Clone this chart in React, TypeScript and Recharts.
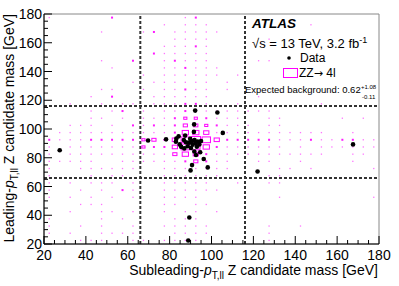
import { ScatterChart, Scatter, XAxis, YAxis, ReferenceLine, ReferenceArea } from 'recharts';

// bin centres of the 5 GeV ZZ->4l prediction histogram
const xCentres = [
  22.5, 27.5, 32.5, 37.5, 42.5, 47.5, 52.5, 57.5, 62.5, 67.5, 72.5, 77.5, 82.5, 87.5, 92.5, 97.5,
  102.5, 107.5, 112.5, 117.5, 122.5, 127.5, 132.5, 137.5, 142.5, 147.5, 152.5, 157.5, 162.5, 167.5, 172.5, 177.5,
];
const yCentres = [
  177.5, 172.5, 167.5, 162.5, 157.5, 152.5, 147.5, 142.5, 137.5, 132.5, 127.5, 122.5, 117.5, 112.5, 107.5, 102.5,
  97.5, 92.5, 87.5, 82.5, 77.5, 72.5, 67.5, 62.5, 57.5, 52.5, 47.5, 42.5, 37.5, 32.5, 27.5, 22.5,
];

// box size per bin (0 = empty, 9 = largest), one string per row, top row first
const zzRows = [
  '10000020000001200000000000000000',
  '00000000000101110000000001000000',
  '00000100012011111000000000000000',
  '00000000000011110000010000000000',
  '00000000000111210000000000000000',
  '00000000002111110000000000000000',
  '00000100200121110000110000000000',
  '00000010000112111000000000000000',
  '00000000010111111010000000000000',
  '00000000101111110100000000000000',
  '00000110010112110100000000000000',
  '00001020001111110000100000000000',
  '00100101101112210010000000100000',
  '00001012010112211111110000000000',
  '00001101011123321110011000001010',
  '00111010212124432111011000000000',
  '01111111111126651111111111100100',
  '21112222234258985222221112112211',
  '10111111132258862111111010111111',
  '10111111111146521111111111100110',
  '11111001111112421100110010000100',
  '10011111100111111100001101000001',
  '10001011000111111000011000000000',
  '10101110100111110010011000000000',
  '10010102100111111000000000000000',
  '10101010100111100000001000000001',
  '00011100000110110000000000000000',
  '00100110100101101000000000000000',
  '10000101000011100000000000000000',
  '10010100100111110000010010000000',
  '10100111100011110000010000000000',
  '00011100110111100000010000000000',
];

// observed events [subleading mass, leading mass]
const dataPoints = [
  [27.5, 85.2], [69.7, 92.0], [78.3, 92.8], [84.3, 94.9], [87.4, 95.4],
  [92.2, 112.8], [102.8, 111.5], [91.7, 103.2], [91.6, 98.0], [105.4, 97.3],
  [83.0, 91.2], [83.2, 93.3], [84.8, 89.3], [85.5, 87.6], [86.8, 92.3],
  [87.8, 90.8], [88.6, 88.0], [89.3, 90.5], [89.8, 93.2], [90.7, 91.6],
  [91.0, 89.0], [91.9, 92.4], [92.4, 90.2], [93.4, 91.3], [94.2, 89.3],
  [95.0, 91.7], [93.0, 87.7], [90.2, 86.8], [87.0, 86.5],
  [91.8, 84.3], [92.6, 81.9], [94.6, 83.8], [96.3, 79.1], [98.2, 73.3],
  [90.7, 74.9], [90.0, 71.2], [89.4, 38.4], [88.9, 22.4], [122.0, 70.4], [167.6, 89.3],
];

const axisTicks = [
  20, 25, 30, 35, 40, 45, 50, 55, 60, 65, 70, 75, 80, 85, 90, 95, 100,
  105, 110, 115, 120, 125, 130, 135, 140, 145, 150, 155, 160, 165, 170, 175, 180,
];
const cutLow = 66;
const cutHigh = 116;

const FONT = '"Liberation Sans", Arial, Helvetica, sans-serif';
const BIN_W = (335 / 160) * 5;
const BIN_H = (230 / 160) * 5;

const zzBins: { x: number; y: number; w: number }[] = [];
zzRows.forEach((row, i) => {
  row.split('').forEach((c, j) => {
    const w = Number(c);
    if (w > 0) zzBins.push({ x: xCentres[j], y: yCentres[i], w });
  });
});
const events = dataPoints.map(([x, y]) => ({ x, y }));

const ZZBox = (props: any) => {
  const { cx, cy, payload } = props;
  const w = payload.w;
  if (w <= 2) {
    const s = w === 1 ? 1.3 : 2;
    return <rect x={cx - s / 2} y={cy - s / 2} width={s} height={s} fill="#ff00ff" fillOpacity={w === 1 ? 0.55 : 0.9} />;
  }
  const bw = (BIN_W * w) / 10;
  const bh = (BIN_H * w) / 10;
  return <rect x={cx - bw / 2} y={cy - bh / 2} width={bw} height={bh} fill="none" stroke="#ff00ff" strokeWidth={1} />;
};

const Dot = (props: any) => <circle cx={props.cx} cy={props.cy} r={2.3} fill="#000" />;

const XTick = (props: any) => {
  const { x, y, payload } = props;
  const major = payload.value % 20 === 0;
  return (
    <g>
      <line x1={x} x2={x} y1={y} y2={y - (major ? 8 : 4)} stroke="#000" />
      {major && (
        <text x={x} y={y + 15.5} textAnchor="middle" fontSize={14} fontFamily={FONT} fill="#000">
          {payload.value}
        </text>
      )}
    </g>
  );
};

const YTick = (props: any) => {
  const { x, y, payload } = props;
  const major = payload.value % 20 === 0;
  return (
    <g>
      <line x1={x} x2={x + (major ? 8 : 4)} y1={y} y2={y} stroke="#000" />
      {major && (
        <text x={x - 2} y={y + 5} textAnchor="end" fontSize={14} fontFamily={FONT} fill="#000">
          {payload.value}
        </text>
      )}
    </g>
  );
};

export default function App() {
  return (
    <div style={{ position: 'relative', width: 399, height: 286, background: '#fff' }}>
      <style>{'body{margin:0}'}</style>
      <ScatterChart width={399} height={286} margin={{ top: 14, right: 20, bottom: 0, left: 0 }}>
        <XAxis
          type="number"
          dataKey="x"
          domain={[20, 180]}
          ticks={axisTicks}
          interval={0}
          height={42}
          tickSize={0}
          tickMargin={0}
          tickLine={false}
          tick={<XTick />}
          axisLine={{ stroke: '#000' }}
          allowDataOverflow
        />
        <YAxis
          type="number"
          dataKey="y"
          domain={[20, 180]}
          ticks={axisTicks}
          interval={0}
          width={44}
          tickSize={0}
          tickMargin={0}
          tickLine={false}
          tick={<YTick />}
          axisLine={{ stroke: '#000' }}
          allowDataOverflow
        />
        <ReferenceArea x1={20} x2={180} y1={20} y2={180} fill="none" stroke="#888" strokeWidth={1} />
        <Scatter data={zzBins} shape={<ZZBox />} isAnimationActive={false} />
        <ReferenceLine x={cutLow} stroke="#333" strokeWidth={2} strokeDasharray="3 2" />
        <ReferenceLine x={cutHigh} stroke="#333" strokeWidth={2} strokeDasharray="3 2" />
        <ReferenceLine y={cutLow} stroke="#333" strokeWidth={2} strokeDasharray="3 2" />
        <ReferenceLine y={cutHigh} stroke="#333" strokeWidth={2} strokeDasharray="3 2" />
        <Scatter data={events} shape={<Dot />} isAnimationActive={false} />
      </ScatterChart>
      <svg width={399} height={286} style={{ position: 'absolute', left: 0, top: 0, pointerEvents: 'none' }} fontFamily={FONT}>
        <text transform="translate(14,14) rotate(-90)" textAnchor="end" fontSize={14} fill="#000">
          Leading-<tspan fontStyle="italic">p</tspan>
          <tspan fontSize={10} dy={4}>T,ll</tspan>
          <tspan dy={-4}> Z candidate mass [GeV]</tspan>
        </text>
        <text x={378} y={275} textAnchor="end" fontSize={14} fill="#000">
          Subleading-<tspan fontStyle="italic">p</tspan>
          <tspan fontSize={10} dy={4}>T,ll</tspan>
          <tspan dy={-4}> Z candidate mass [GeV]</tspan>
        </text>
        <text x={252} y={28} fontSize={13.5} fontWeight="bold" fontStyle="italic" fill="#000">ATLAS</text>
        <text x={252} y={48} fontSize={13} fill="#000">
          √s = 13 TeV, 3.2 fb<tspan fontSize={9} dy={-5}>-1</tspan>
        </text>
        <circle cx={289} cy={58} r={1.8} fill="#000" />
        <text x={300} y={62} fontSize={12} fill="#000">Data</text>
        <rect x={283.5} y={68.5} width={14} height={9} fill="none" stroke="#ff00ff" strokeWidth={1} />
        <text x={299} y={77} fontSize={12} fill="#000">
          ZZ<tspan fontFamily='"DejaVu Sans", sans-serif' fontSize={11}>→</tspan> 4l
        </text>
        <text x={245} y={93} fontSize={9.5} fill="#000">Expected background: 0.62</text>
        <text x={361} y={89} fontSize={6} fill="#000">+1.08</text>
        <text x={362} y={99} fontSize={6} fill="#000">-0.11</text>
      </svg>
    </div>
  );
}
